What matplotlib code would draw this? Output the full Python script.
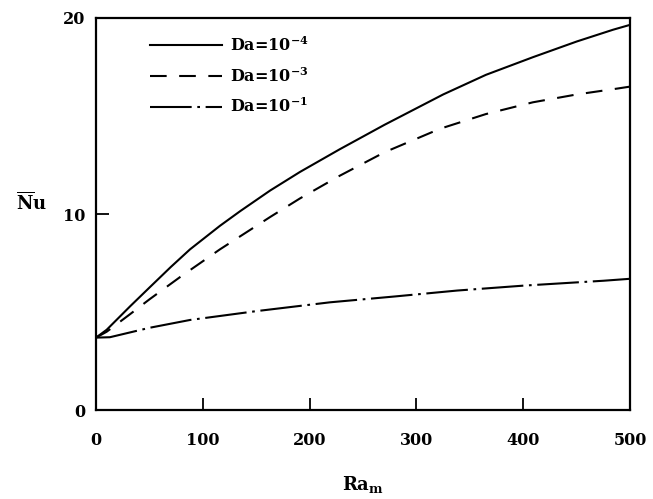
import matplotlib
matplotlib.use("Agg")
import matplotlib.pyplot as plt
import numpy as np

# Ra_m values and Nu for each Da
ra_m = [0, 10, 32, 50, 70, 88, 116, 135, 163, 191, 228, 270, 325, 365, 409, 450, 484, 500]
nu_da4 = [3.7, 4.1, 5.3, 6.25, 7.3, 8.2, 9.4, 10.15, 11.2, 12.15, 13.3, 14.55, 16.1, 17.1, 18.0, 18.8, 19.4, 19.65]

ra_m_a = [0, 10, 32, 50, 79, 116, 163, 191, 228, 270, 322, 365, 409, 450, 488, 500]
nu_da3 = [3.7, 4.0, 4.9, 5.65, 6.8, 8.2, 9.85, 10.8, 11.95, 13.15, 14.35, 15.1, 15.7, 16.1, 16.4, 16.5]

ra_m_b = [0, 13, 50, 88, 150, 219, 280, 338, 400, 475, 500]
nu_da1 = [3.7, 3.72, 4.2, 4.6, 5.05, 5.5, 5.8, 6.1, 6.35, 6.6, 6.7]

labels = [r'Da=10$^{\mathbf{-4}}$', r'Da=10$^{\mathbf{-3}}$', r'Da=10$^{\mathbf{-1}}$']

plt.rcParams['font.family'] = 'DejaVu Serif'
plt.rcParams['font.weight'] = 'bold'
plt.rcParams['mathtext.fontset'] = 'dejavuserif'
plt.rcParams['mathtext.default'] = 'bf'

fig = plt.figure(figsize=(6.53, 4.99), dpi=100)
ax = fig.add_axes([0.147, 0.178, 0.818, 0.786])

lw = 1.5
ax.plot(ra_m, nu_da4, color='black', lw=lw, label=labels[0])
ax.plot(ra_m_a, nu_da3, color='black', lw=lw, dashes=(8, 6), label=labels[1])
ax.plot(ra_m_b, nu_da1, color='black', lw=lw, dashes=(20, 2.7, 1.3, 2.7), label=labels[2])

ax.set_xlim(0, 500)
ax.set_ylim(0, 20)
ax.set_xticks([0, 100, 200, 300, 400, 500])
ax.set_yticks([0, 10, 20])
ax.tick_params(direction='in', length=9, width=1.3, labelsize=11.5, pad=8)
ax.tick_params(axis='x', pad=16)
for s in ax.spines.values():
    s.set_linewidth(1.6)

ax.set_xlabel(r'$\mathrm{Ra_m}$', fontsize=13, va='center')
ax.xaxis.set_label_coords(0.5, -0.19)
ax.set_ylabel(r'$\overline{\mathrm{N}}\mathrm{u}$', fontsize=13, rotation=0)
ax.yaxis.set_label_coords(-0.12, 0.5)

ax.legend(loc='upper left', bbox_to_anchor=(0.075, 0.99), frameon=False,
          handlelength=4.5, labelspacing=0.75, fontsize=11.5, handletextpad=0.5)

plt.savefig('out.png', dpi=100)
